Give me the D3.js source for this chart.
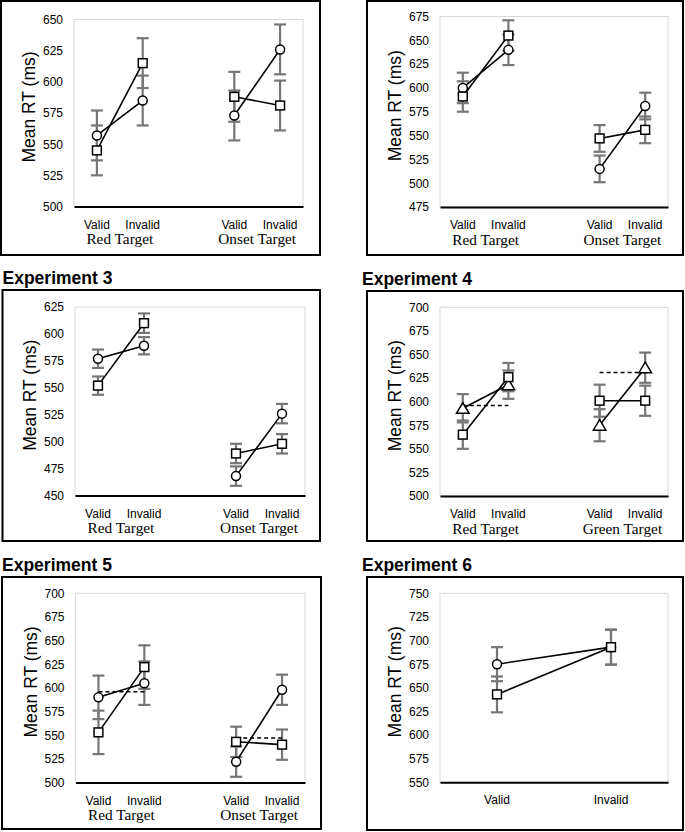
<!DOCTYPE html>
<html><head><meta charset="utf-8">
<script src="https://cdn.jsdelivr.net/npm/d3@7"></script>
<style>body{margin:0;background:#fff}svg{display:block}</style>
</head><body>
<svg id="c" width="685" height="832"></svg>
<script>
// ---------- DATA ----------
const conditions = ["Valid", "Invalid"];
const groupsOnset = ["Red Target", "Onset Target"];
const groupsGreen = ["Red Target", "Green Target"];

const exp1Ticks = [500, 525, 550, 575, 600, 625, 650];
const exp1Circle = [557, 585, 573, 626];
const exp1CircleErr = [20, 20, 20, 20];
const exp1Square = [545, 615, 588, 581];
const exp1SquareErr = [20, 20, 20, 20];

const exp2Ticks = [475, 500, 525, 550, 575, 600, 625, 650, 675];
const exp2Circle = [600, 640, 515, 581];
const exp2CircleErr = [16, 16, 14, 14];
const exp2Square = [591, 655, 547, 556];
const exp2SquareErr = [16, 16, 14, 14];

const exp3Ticks = [450, 475, 500, 525, 550, 575, 600, 625];
const exp3Circle = [577, 589, 468, 526];
const exp3CircleErr = [8.5, 8, 9, 9];
const exp3Square = [552, 610, 489, 498];
const exp3SquareErr = [8.5, 9, 9, 9];

const exp4Ticks = [500, 525, 550, 575, 600, 625, 650, 675, 700];
const exp4Triangle = [593, 618, 575, 636];
const exp4TriangleErr = [15, 15, 17, 16];
const exp4Square = [565, 626, 601, 601];
const exp4SquareErr = [15, 15, 17, 16];
const exp4Dashed = [596, 631];

const exp5Ticks = [500, 525, 550, 575, 600, 625, 650, 675, 700];
const exp5Circle = [590, 605, 522, 598];
const exp5CircleErr = [23, 23, 16, 16];
const exp5Square = [553, 622, 543, 540];
const exp5SquareErr = [23, 23, 16, 16];
const exp5Dashed = [596, 547];

const exp6Ticks = [550, 575, 600, 625, 650, 675, 700, 725, 750];
const exp6Circle = [675, 693];
const exp6CircleErr = [18, 18.5];
const exp6Square = [643, 693];
const exp6SquareErr = [19, 18.5];

// ---------- LAYOUT ----------
const svg = d3.select("#c");
const ERR = "#767676";

function drawPanel(o) {
  const g = svg.append("g");
  const [bx0, by0, bx1, by1] = o.box;
  const [L, T, R, B] = o.plot;

  if (o.title) {
    g.append("text").attr("x", bx0 + (o.titleDx || 0)).attr("y", by0 - 6.5)
      .attr("font-family", "Liberation Sans, Arial, sans-serif")
      .attr("font-weight", "bold").attr("font-size", 17.5).attr("fill", "#000")
      .text(o.title);
  }
  g.append("rect").attr("x", bx0).attr("y", by0).attr("width", bx1 - bx0).attr("height", by1 - by0)
    .attr("fill", "none").attr("stroke", "#000").attr("stroke-width", 2);

  // plot border
  g.append("rect").attr("x", L).attr("y", T).attr("width", R - L).attr("height", B - T)
    .attr("fill", "none").attr("stroke", "#d9d9d9").attr("stroke-width", 1);

  const ticks = o.ticks;
  const y = d3.scaleLinear().domain([ticks[0], ticks[ticks.length - 1]]).range([B, T]);

  const twoGroups = !!o.groups;
  const slots = twoGroups ? ["s0", "s1", "gap", "s2", "s3"] : ["s0", "s1"];
  const x = d3.scaleBand().domain(slots).range([L, R]).padding(0);
  const keys = twoGroups ? ["s0", "s1", "s2", "s3"] : ["s0", "s1"];
  const cx = i => x(keys[i]) + x.bandwidth() / 2;

  // y axis
  const ya = g.append("g").attr("transform", `translate(${L},0)`)
    .call(d3.axisLeft(y).tickValues(ticks).tickSize(0).tickPadding(11).tickFormat(d3.format("d")));
  ya.select(".domain").remove();
  ya.selectAll("text").attr("font-family", "Liberation Sans, Arial, sans-serif").attr("font-size", 12).attr("fill", "#000");

  // x axis
  const labelOf = {s0: conditions[0], s1: conditions[1], s2: conditions[0], s3: conditions[1], gap: ""};
  const xa = g.append("g").attr("transform", `translate(0,${B})`)
    .call(d3.axisBottom(x).tickSize(0).tickSizeOuter(0).tickPadding(13.5).tickFormat(k => labelOf[k]));
  xa.select(".domain").attr("stroke", "#000").attr("stroke-width", 2);
  xa.selectAll("text").attr("font-family", "Liberation Sans, Arial, sans-serif").attr("font-size", 12).attr("fill", "#000");

  if (twoGroups) {
    o.groups.forEach((name, gi) => {
      g.append("text").attr("x", (cx(gi * 2) + cx(gi * 2 + 1)) / 2).attr("y", B + 37.5)
        .attr("text-anchor", "middle").attr("font-family", "Liberation Serif, Times New Roman, serif")
        .attr("font-size", 15.3).attr("fill", "#000").text(name);
    });
  }

  // y label
  g.append("text").attr("transform", `translate(${L - 45},${(T + B) / 2 - 6}) rotate(-90)`)
    .attr("text-anchor", "middle").attr("dy", "0.35em")
    .attr("font-family", "Liberation Sans, Arial, sans-serif").attr("font-size", 17.5).attr("fill", "#000")
    .text("Mean RT (ms)");

  const n = keys.length;
  const idx = d3.range(n);

  // error bars
  o.series.forEach(s => {
    idx.forEach(i => {
      const v = s.values[i], e = s.errs[i], xx = cx(i);
      g.append("line").attr("x1", xx).attr("x2", xx).attr("y1", y(v - e)).attr("y2", y(v + e))
        .attr("stroke", ERR).attr("stroke-width", 2.2);
      [v - e, v + e].forEach(c => {
        g.append("line").attr("x1", xx - 6).attr("x2", xx + 6).attr("y1", y(c)).attr("y2", y(c))
          .attr("stroke", ERR).attr("stroke-width", 2.2);
      });
    });
  });

  // dashed reference lines
  if (o.dashed) {
    o.dashed.forEach((v, gi) => {
      g.append("line").attr("x1", cx(gi * 2)).attr("x2", cx(gi * 2 + 1)).attr("y1", y(v)).attr("y2", y(v))
        .attr("stroke", "#000").attr("stroke-width", 1.5).attr("stroke-dasharray", "4,3");
    });
  }

  // connecting lines
  o.series.forEach(s => {
    const pairs = twoGroups ? [[0, 1], [2, 3]] : [[0, 1]];
    pairs.forEach(p => {
      g.append("path")
        .attr("d", d3.line().x(i => cx(i)).y(i => y(s.values[i]))(p))
        .attr("fill", "none").attr("stroke", "#000").attr("stroke-width", 1.6);
    });
  });

  // markers
  o.series.forEach(s => {
    idx.forEach(i => {
      const xx = cx(i), yy = y(s.values[i]);
      if (s.marker === "circle") {
        g.append("circle").attr("cx", xx).attr("cy", yy).attr("r", 4.5)
          .attr("fill", "#fff").attr("stroke", "#000").attr("stroke-width", 1.5);
      } else if (s.marker === "square") {
        g.append("rect").attr("x", xx - 4.4).attr("y", yy - 4.4).attr("width", 8.8).attr("height", 8.8)
          .attr("fill", "#fff").attr("stroke", "#000").attr("stroke-width", 1.5);
      } else {
        g.append("path").attr("transform", `translate(${xx},${yy})`)
          .attr("d", "M0,-5.5L6.3,5L-6.3,5Z")
          .attr("fill", "#fff").attr("stroke", "#000").attr("stroke-width", 1.5);
      }
    });
  });
}

drawPanel({box: [1, 1, 320, 255], plot: [74, 19.5, 303, 206.5], ticks: exp1Ticks, groups: groupsOnset,
  series: [{values: exp1Circle, errs: exp1CircleErr, marker: "circle"},
           {values: exp1Square, errs: exp1SquareErr, marker: "square"}]});

drawPanel({box: [367, 1, 683, 255], plot: [440, 16.5, 668, 207], ticks: exp2Ticks, groups: groupsOnset,
  series: [{values: exp2Circle, errs: exp2CircleErr, marker: "circle"},
           {values: exp2Square, errs: exp2SquareErr, marker: "square"}]});

drawPanel({title: "Experiment 3", box: [2.5, 290, 320, 541], plot: [75, 307, 305, 495.5], ticks: exp3Ticks, groups: groupsOnset,
  series: [{values: exp3Circle, errs: exp3CircleErr, marker: "circle"},
           {values: exp3Square, errs: exp3SquareErr, marker: "square"}]});

drawPanel({title: "Experiment 4", titleDx: -5, box: [367, 291, 683, 541], plot: [440, 307.3, 668, 496], ticks: exp4Ticks, groups: groupsGreen,
  dashed: exp4Dashed,
  series: [{values: exp4Triangle, errs: exp4TriangleErr, marker: "triangle"},
           {values: exp4Square, errs: exp4SquareErr, marker: "square"}]});

drawPanel({title: "Experiment 5", box: [2, 577, 321, 829], plot: [75.5, 593.3, 305, 782.5], ticks: exp5Ticks, groups: groupsOnset,
  dashed: exp5Dashed,
  series: [{values: exp5Circle, errs: exp5CircleErr, marker: "circle"},
           {values: exp5Square, errs: exp5SquareErr, marker: "square"}]});

drawPanel({title: "Experiment 6", titleDx: -5, box: [367, 577, 683, 830], plot: [440, 593.3, 668, 782.3], ticks: exp6Ticks,
  series: [{values: exp6Circle, errs: exp6CircleErr, marker: "circle"},
           {values: exp6Square, errs: exp6SquareErr, marker: "square"}]});
</script>
</body></html>
